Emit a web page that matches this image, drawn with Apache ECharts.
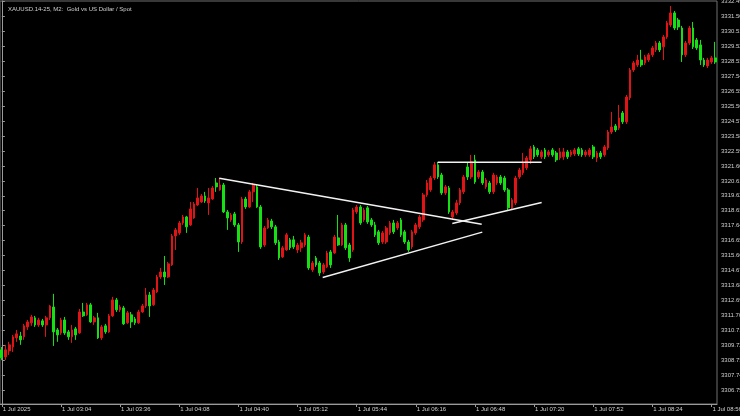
<!DOCTYPE html>
<html>
<head>
<meta charset="utf-8">
<script src="https://cdn.jsdelivr.net/npm/echarts@6/dist/echarts.min.js"></script>
<style>
html,body{margin:0;padding:0;background:#000;overflow:hidden;}
#c{width:740px;height:416px;}
</style>
</head>
<body>
<div id="c"></div>
<script>
// ---- data (2-minute bars, XAUUSD, 1 Jul 2025 02:32 .. 08:58) ----
const chartTitle = "XAUUSD.14-25, M2:  Gold vs US Dollar / Spot";

const openP = [
3309.41,3308.94,3309.34,3309.60,3310.20,3310.33,3310.27,3310.93,3311.20,3311.53,
3311.06,3311.33,3311.06,3311.53,3312.25,3310.73,3310.53,3311.39,3310.60,3310.27,
3310.80,3310.53,3311.92,3311.73,3312.39,3311.26,3311.53,3310.20,3311.00,3310.60,
3311.66,3312.72,3312.06,3312.19,3311.20,3311.73,3311.46,3311.20,3311.92,3312.32,
3313.05,3312.39,3313.25,3314.24,3314.57,3314.24,3315.04,3316.96,3317.16,3317.82,
3318.22,3317.69,3318.15,3319.01,3319.21,3319.61,3319.15,3319.41,3320.47,3320.01,
3320.34,3318.55,3318.02,3318.42,3317.69,3316.56,3319.41,3318.88,3319.88,3320.21,
3318.88,3316.36,3317.49,3317.95,3317.56,3316.56,3315.57,3316.03,3316.70,3316.70,
3316.03,3316.17,3316.36,3316.89,3314.71,3315.50,3315.17,3314.57,3314.91,3315.90,
3315.83,3316.83,3316.36,3317.69,3316.36,3316.03,3318.55,3318.88,3318.02,3318.82,
3318.02,3317.69,3317.23,3316.56,3316.56,3317.16,3317.82,3317.49,3318.02,3317.23,
3316.56,3316.23,3317.16,3317.56,3318.02,3319.68,3320.01,3320.80,3321.67,3321.00,
3319.81,3320.14,3318.22,3318.48,3319.15,3319.88,3321.53,3320.87,3322.00,3320.87,
3321.20,3320.21,3320.47,3319.88,3320.47,3320.87,3320.80,3320.01,3318.82,3319.15,
3320.87,3321.14,3321.47,3322.00,3322.86,3322.66,3322.20,3322.66,3322.33,3322.66,
3322.46,3322.13,3322.20,3322.53,3322.33,3322.39,3322.73,3322.66,3322.33,3322.33,
3322.86,3322.13,3322.46,3322.33,3322.79,3323.85,3324.25,3324.12,3325.11,3324.52,
3326.11,3327.96,3328.29,3328.62,3328.43,3328.62,3328.96,3329.29,3329.75,3329.49,
3330.15,3330.94,3331.74,3331.27,3330.74,3328.96,3329.75,3330.74,3329.95,3329.62,
3328.62,3328.23,3328.49,3328.76];

const closeP = [
3308.88,3309.41,3309.74,3310.27,3310.47,3310.07,3311.00,3311.26,3311.59,3311.06,
3311.39,3311.06,3311.53,3312.32,3310.60,3310.40,3311.39,3310.53,3310.27,3310.73,
3310.40,3311.92,3311.66,3312.39,3311.26,3311.53,3310.20,3310.93,3310.60,3311.66,
3312.72,3312.06,3312.25,3311.13,3311.86,3311.26,3311.20,3311.92,3312.32,3313.05,
3312.32,3313.38,3314.24,3314.57,3314.24,3315.11,3316.96,3317.36,3317.82,3318.22,
3317.56,3318.75,3319.08,3319.48,3319.61,3319.28,3319.48,3320.14,3320.21,3320.34,
3318.55,3318.15,3318.35,3317.69,3316.56,3319.41,3318.88,3319.88,3320.34,3318.88,
3316.23,3317.49,3318.02,3317.56,3316.50,3315.50,3316.17,3317.03,3316.17,3316.23,
3316.36,3316.50,3317.03,3314.84,3315.17,3315.04,3314.51,3315.04,3315.83,3315.04,
3316.89,3316.36,3317.69,3316.17,3315.50,3318.68,3318.88,3317.82,3318.68,3317.89,
3317.69,3317.03,3316.50,3317.16,3317.49,3317.82,3317.23,3317.82,3317.03,3316.56,
3316.03,3317.23,3317.69,3318.22,3319.68,3320.47,3320.80,3321.67,3320.87,3319.81,
3320.21,3318.55,3318.55,3319.15,3320.01,3320.87,3320.87,3321.86,3320.54,3321.20,
3320.47,3320.67,3319.88,3321.00,3320.87,3320.47,3320.01,3318.82,3319.35,3320.80,
3321.33,3321.80,3322.13,3322.73,3322.20,3322.33,3322.53,3322.20,3322.53,3322.33,
3322.00,3322.53,3322.53,3322.20,3322.53,3322.66,3322.39,3322.33,3322.53,3322.66,
3322.20,3322.46,3322.20,3322.86,3323.85,3324.18,3323.98,3324.78,3324.52,3326.17,
3327.96,3328.43,3328.62,3328.29,3328.82,3328.96,3329.42,3329.75,3329.29,3330.15,
3331.08,3331.74,3330.74,3330.81,3328.96,3329.75,3330.74,3329.49,3329.42,3328.62,
3328.29,3328.62,3328.76,3328.49];

const lowP = [
3308.74,3308.74,3309.07,3309.27,3309.94,3309.74,3310.07,3310.73,3311.00,3310.93,
3310.93,3310.93,3310.27,3311.39,3309.67,3309.94,3310.40,3310.40,3310.07,3309.87,
3310.07,3310.47,3311.59,3311.66,3311.20,3311.06,3310.13,3310.07,3310.47,3310.53,
3311.59,3311.92,3311.92,3311.06,3311.13,3310.86,3311.06,3311.13,3311.86,3312.19,
3311.59,3312.32,3313.18,3314.11,3313.71,3314.18,3314.97,3316.03,3317.03,3317.69,
3317.16,3317.62,3318.09,3318.95,3319.15,3319.15,3318.35,3319.35,3319.88,3319.95,
3318.48,3317.36,3317.89,3317.56,3315.90,3316.43,3318.75,3318.82,3319.21,3318.82,
3316.10,3316.23,3317.42,3317.42,3316.36,3315.37,3315.50,3315.97,3316.03,3316.10,
3315.83,3315.90,3316.23,3314.71,3314.57,3314.91,3314.31,3314.44,3314.84,3314.84,
3315.77,3316.30,3316.30,3316.03,3315.24,3315.90,3318.42,3317.69,3317.89,3317.76,
3317.56,3316.89,3316.36,3316.43,3316.43,3317.03,3317.09,3317.36,3316.89,3316.43,
3315.90,3316.10,3317.03,3317.42,3317.89,3319.55,3319.88,3320.67,3320.74,3319.68,
3319.68,3318.42,3318.02,3318.35,3319.01,3319.74,3320.67,3320.74,3320.41,3320.74,
3320.34,3320.08,3319.74,3319.74,3320.34,3320.34,3319.88,3318.68,3318.68,3319.01,
3320.74,3321.00,3321.33,3321.73,3322.06,3322.20,3322.06,3322.06,3322.20,3322.20,
3321.86,3322.00,3322.00,3322.06,3322.20,3322.26,3322.26,3322.20,3322.20,3322.20,
3322.06,3321.86,3322.06,3322.20,3322.66,3323.72,3323.85,3323.98,3324.38,3324.38,
3325.97,3327.83,3328.16,3328.16,3328.29,3328.49,3328.82,3329.15,3329.15,3328.62,
3330.02,3330.81,3330.61,3330.61,3328.49,3328.82,3329.62,3329.35,3329.29,3328.29,
3328.16,3328.09,3328.36,3328.36];

const highP = [
3309.60,3309.74,3309.94,3310.40,3310.73,3310.60,3311.13,3311.39,3311.73,3311.66,
3311.53,3311.46,3311.66,3312.39,3313.12,3310.86,3311.53,3311.59,3310.73,3311.06,
3310.93,3312.12,3312.52,3312.52,3312.52,3311.66,3311.86,3311.06,3311.13,3311.79,
3312.92,3312.85,3312.39,3312.32,3311.99,3311.92,3311.59,3312.06,3312.45,3313.51,
3313.25,3313.51,3314.38,3314.84,3315.63,3315.24,3317.09,3317.49,3317.95,3318.35,
3318.29,3319.21,3319.21,3320.14,3319.74,3319.88,3320.14,3320.27,3320.80,3320.80,
3320.47,3318.68,3318.48,3318.55,3317.82,3319.55,3319.55,3320.01,3320.47,3320.34,
3319.01,3317.62,3318.15,3318.09,3317.69,3316.70,3316.30,3317.16,3316.83,3316.96,
3316.50,3316.70,3317.16,3317.03,3315.30,3315.63,3315.30,3315.17,3315.97,3316.03,
3317.03,3318.35,3317.82,3317.82,3316.50,3318.82,3319.01,3319.01,3318.82,3318.95,
3318.15,3317.89,3317.36,3317.29,3317.62,3317.95,3318.02,3317.95,3318.15,3317.36,
3316.70,3317.36,3317.82,3318.35,3319.81,3320.67,3320.94,3321.86,3321.86,3321.14,
3320.34,3320.27,3318.68,3319.35,3320.14,3321.00,3321.80,3322.33,3322.33,3321.33,
3321.33,3320.80,3320.61,3321.14,3321.00,3321.00,3320.94,3320.14,3319.48,3320.94,
3321.47,3322.46,3322.26,3322.92,3322.99,3322.79,3322.66,3322.79,3322.66,3322.79,
3322.59,3322.79,3322.79,3322.66,3322.66,3322.79,3322.86,3322.79,3322.66,3322.79,
3322.99,3322.59,3322.59,3322.99,3323.98,3325.18,3324.38,3325.64,3325.24,3326.30,
3328.09,3328.56,3328.96,3329.29,3328.96,3329.09,3329.55,3329.88,3329.88,3330.28,
3331.21,3332.20,3331.87,3331.41,3330.88,3329.88,3330.88,3331.14,3330.08,3329.95,
3328.76,3328.76,3328.89,3329.82];

// price-axis tick labels
const yTicks = [3306.75,3307.74,3308.73,3309.72,3310.71,3311.70,3312.69,3313.68,3314.67,
  3315.66,3316.65,3317.64,3318.63,3319.62,3320.61,3321.60,3322.59,3323.58,3324.57,
  3325.56,3326.55,3327.54,3328.53,3329.52,3330.51,3331.50,3332.49];

// time-axis tick labels (every 16 bars = 32 minutes)
const xTickLabels = ["1 Jul 2025","1 Jul 03:04","1 Jul 03:36","1 Jul 04:08","1 Jul 04:40",
  "1 Jul 05:12","1 Jul 05:44","1 Jul 06:16","1 Jul 06:48","1 Jul 07:20","1 Jul 07:52",
  "1 Jul 08:24","1 Jul 08:56"];

// hand-drawn trend lines: [barIndex, price] endpoints
const trendFallingTop = [[58.83, 3320.78], [129.83, 3317.74]];
const trendRisingLow  = [[86.81, 3314.20], [129.99, 3317.21]];
const trendFlatTop    = [[117.93, 3321.84], [146.06, 3321.84]];
const trendRisingLow2 = [[121.88, 3317.78], [146.06, 3319.17]];

// ---- build ----
const categories = [];
for (let i = 0; i < openP.length; i++) {
  const m = 2 * 60 + 32 + 2 * i;
  categories.push(String(Math.floor(m / 60)).padStart(2, '0') + ':' + String(m % 60).padStart(2, '0'));
}
const ohlc = openP.map((o, i) => [o, closeP[i], lowP[i], highP[i]]);

const FONT = 'Liberation Sans';
const AXIS_C = '#9a9a9a';
const TXT_C = '#cfcfcf';
const every16 = (idx) => idx % 16 === 0;

const chart = echarts.init(document.getElementById('c'), null, {renderer: 'canvas'});
const lineSeries = (d) => ({
  type: 'line', xAxisIndex: 1, yAxisIndex: 0, data: d, symbol: 'none',
  lineStyle: {color: '#f2f2f2', width: 1.5}, silent: true, z: 5
});
chart.setOption({
  backgroundColor: '#000000',
  animation: false,
  title: {
    text: chartTitle, left: 3, top: 1,
    textStyle: {color: TXT_C, fontSize: 6, fontWeight: 'normal', fontFamily: FONT}
  },
  grid: {left: 0, right: 23, top: 1, bottom: 12, containLabel: false, outerBoundsMode: 'none',
         show: true, borderColor: '#707070', borderWidth: 1},
  xAxis: [{
    type: 'category', data: categories, boundaryGap: true,
    axisLine: {lineStyle: {color: AXIS_C}},
    axisTick: {show: true, interval: every16, alignWithLabel: true, length: 3, lineStyle: {color: AXIS_C}},
    axisLabel: {
      interval: every16, align: 'left', margin: 2, padding: [0, 0, 0, 1],
      color: TXT_C, fontSize: 6, fontFamily: FONT,
      formatter: (v, idx) => xTickLabels[Math.round(idx / 16)] || ''
    },
    splitLine: {show: false}
  }, {
    type: 'value', min: -0.5, max: openP.length - 0.5, show: false
  }],
  yAxis: {
    type: 'value', position: 'right', min: 3305.82, max: 3332.53, scale: true,
    axisLine: {show: true, lineStyle: {color: AXIS_C}},
    axisTick: {show: true, length: 3, customValues: yTicks, lineStyle: {color: AXIS_C}},
    axisLabel: {
      customValues: yTicks, margin: 4, color: TXT_C, fontSize: 6, fontFamily: FONT,
      formatter: (v) => v.toFixed(2)
    },
    splitLine: {show: false}
  },
  series: [{
    type: 'candlestick', data: ohlc, barWidth: 2.2,
    itemStyle: {
      color: '#e01414', color0: '#14e014',
      borderColor: '#e01414', borderColor0: '#14e014', borderWidth: 1
    }
  },
  lineSeries(trendFallingTop), lineSeries(trendRisingLow),
  lineSeries(trendFlatTop), lineSeries(trendRisingLow2)]
});
</script>
</body>
</html>
